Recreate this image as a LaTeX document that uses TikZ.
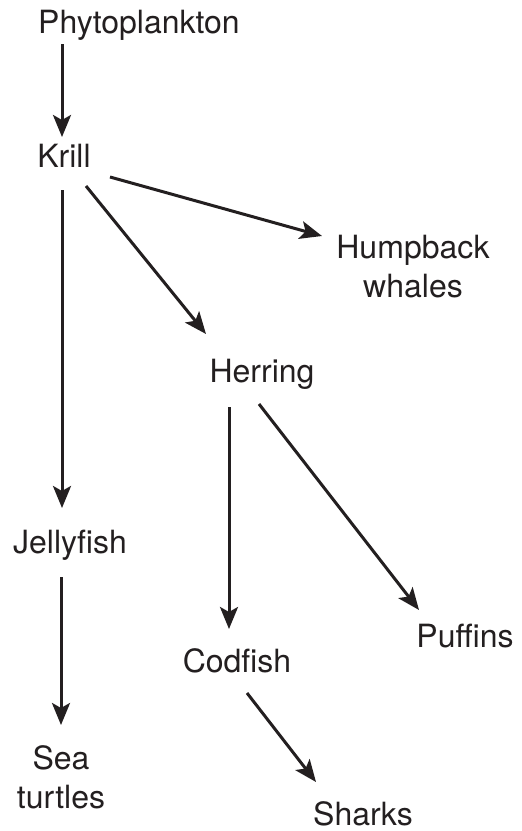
\documentclass[tikz,border=0pt]{standalone}
\usepackage{fontspec}
\setmainfont{TeX Gyre Heros}
\usetikzlibrary{arrows.meta}

\definecolor{ink}{HTML}{231F20}

\begin{document}
\begin{tikzpicture}[x=1pt,y=-1pt,
    lbl/.style={anchor=base,inner sep=0pt,align=center,text=ink,
        font=\fontsize{32}{39}\selectfont},
    arr/.style={draw=ink,line width=3pt,
        -{Stealth[length=22pt,width=18pt,inset=5pt]}}]

    \useasboundingbox (0,0) rectangle (522,831);

    % Species (two-line names sit on their last line)
    \node[lbl] (phyto)   at (139,33)  {Phytoplankton};
    \node[lbl] (krill)   at (64,167)  {Krill};
    \node[lbl] (hump)    at (413,297) {Humpback\\whales};
    \node[lbl] (herring) at (262,382) {Herring};
    \node[lbl] (jelly)   at (70,553)  {Jellyfish};
    \node[lbl] (puffins) at (465,647) {Puffins};
    \node[lbl] (codfish) at (237,672) {Codfish};
    \node[lbl] (sea)     at (61,808)  {Sea\\turtles};
    \node[lbl] (sharks)  at (363,825) {Sharks};

    % Who eats whom
    \draw[arr] ([shift={(-77,11)}]phyto.base)  -- ([shift={(-2,-30)}]krill.base);
    \draw[arr] ([shift={(46,10)}]krill.base)   -- ([shift={(-91,-61)}]hump.base);
    \draw[arr] ([shift={(22,19)}]krill.base)   -- ([shift={(-56,-48)}]herring.base);
    \draw[arr] ([shift={(-2,23)}]krill.base)   -- ([shift={(-8,-45)}]jelly.base);
    \draw[arr] ([shift={(-33,25)}]herring.base) -- ([shift={(-8,-43)}]codfish.base);
    \draw[arr] ([shift={(-3,22)}]herring.base) -- ([shift={(-46,-37)}]puffins.base);
    \draw[arr] ([shift={(-9,24)}]jelly.base)   -- ([shift={(0,-83)}]sea.base);
    \draw[arr] ([shift={(10,21)}]codfish.base) -- ([shift={(-47,-43)}]sharks.base);

\end{tikzpicture}
\end{document}
